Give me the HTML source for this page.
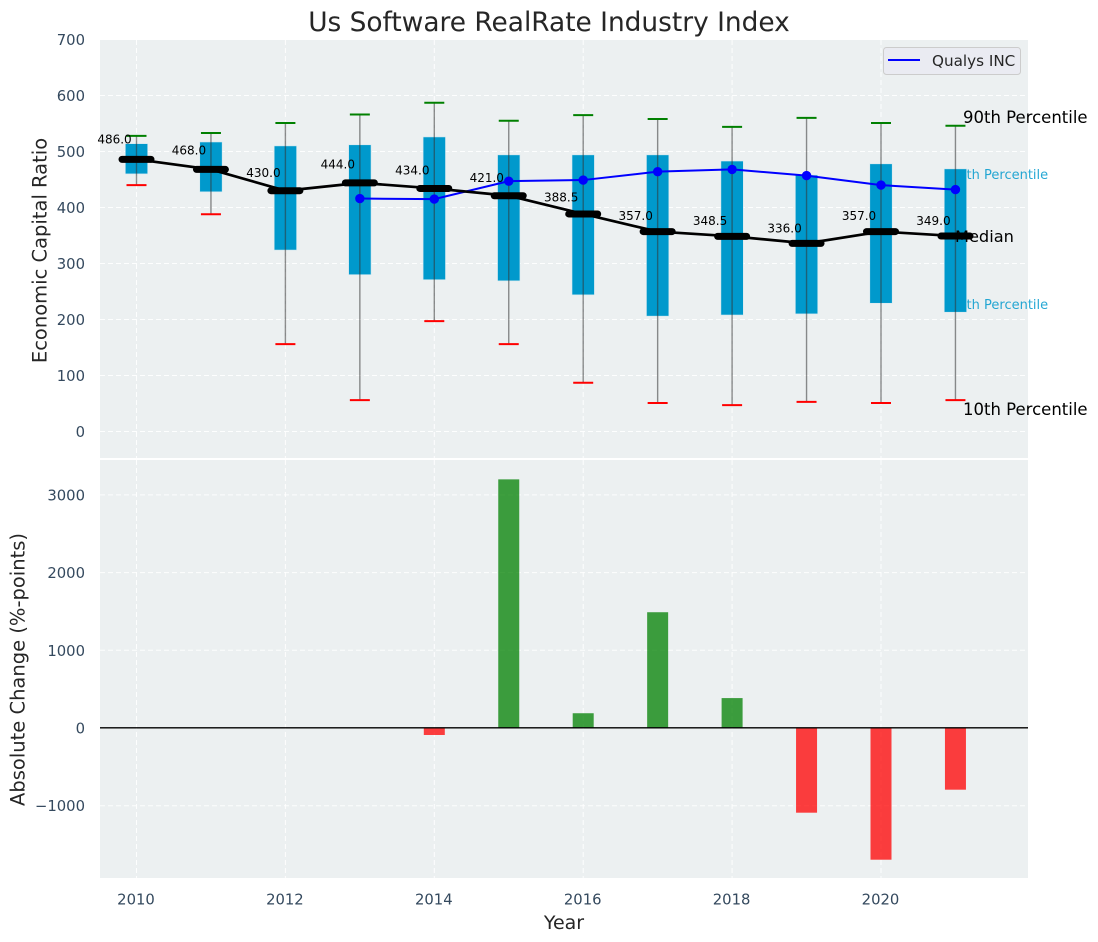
<!DOCTYPE html>
<html lang="en">
<head>
<meta charset="utf-8">
<title>Us Software RealRate Industry Index</title>
<style>
html,body{margin:0;padding:0;background:#fff;width:1098px;height:942px;overflow:hidden}
svg{display:block}
text{font-family:"DejaVu Sans","Liberation Sans",sans-serif}
</style>
</head>
<body>
<svg id="chart" xmlns="http://www.w3.org/2000/svg" width="1098" height="942" viewBox="0 0 1098 942">
  <text x="549" y="31" text-anchor="middle" font-size="26.4" fill="#262626">Us Software RealRate Industry Index</text>
  <rect x="100" y="40" width="928" height="418" fill="#ecf0f1"/>
  <rect x="100" y="460" width="928" height="418" fill="#ecf0f1"/>
  <g id="grid"></g>
  <g id="ticks"></g>
  <text transform="translate(46.5 250.5) rotate(-90)" text-anchor="middle" font-size="19.5" fill="#262626">Economic Capital Ratio</text>
  <text transform="translate(24.5 669.5) rotate(-90)" text-anchor="middle" font-size="19.5" fill="#262626">Absolute Change (%-points)</text>
  <text x="564" y="929" text-anchor="middle" font-size="19" fill="#262626">Year</text>
  <text x="950" y="179" font-size="13" fill="#0099cc" fill-opacity="0.85">75th Percentile</text>
  <text x="950" y="309" font-size="13" fill="#0099cc" fill-opacity="0.85">25th Percentile</text>
  <g id="boxes"></g>
  <g id="bars"></g>
  <line x1="100" x2="1028" y1="727.8" y2="727.8" stroke="#000" stroke-width="1.4"/>
  <g id="company"></g>
  <g id="median"></g>
  <text x="963" y="123" font-size="16.5" fill="#000">90th Percentile</text>
  <text x="955" y="242" font-size="16.2" fill="#000">Median</text>
  <text x="963" y="415" font-size="16.5" fill="#000">10th Percentile</text>
  <g>
    <rect x="883.5" y="47.5" width="137" height="27" rx="3" fill="#eaeaf2" fill-opacity="0.85" stroke="#cccccc"/>
    <line x1="888" x2="920" y1="60" y2="60" stroke="#0000ff" stroke-width="2"/>
    <text x="932" y="66" font-size="15.2" fill="#262626">Qualys INC</text>
  </g>
</svg>
<script>
const years = [2010, 2011, 2012, 2013, 2014, 2015, 2016, 2017, 2018, 2019, 2020, 2021];
const p90 = [528, 533, 551, 566, 587, 555, 565, 558, 544, 560, 551, 546];
const p75 = [514, 517, 510, 512, 526, 494, 494, 494, 483, 458, 478, 469];
const medians = [486, 468, 430, 444, 434, 421, 388.5, 357, 348.5, 336, 357, 349];
const p25 = [460, 428, 324, 280, 271, 269, 244, 206, 208, 210, 229, 213];
const p10 = [440, 388, 156, 56, 197, 156, 87, 51, 47, 53, 51, 56];
const companyYears = [2013, 2014, 2015, 2016, 2017, 2018, 2019, 2020, 2021];
const companyValues = [416, 415, 447, 449, 464, 468, 457, 440, 432];
const changeYears = [2014, 2015, 2016, 2017, 2018, 2019, 2020, 2021];
const changeValues = [-90, 3200, 190, 1490, 385, -1090, -1695, -794];
const xTicks = [2010, 2012, 2014, 2016, 2018, 2020];
const topTicks = [0, 100, 200, 300, 400, 500, 600, 700];
const bottomTicks = [-1000, 0, 1000, 2000, 3000];

const NS = 'http://www.w3.org/2000/svg';
const xScale = v => 136.5 + (v - 2010) * 74.45;
const yTop = v => 431.5 - v * 0.56;
const yBottom = v => 728 - v * 0.0777;
function mk(parent, tag, attrs, txt) {
  const el = document.createElementNS(NS, tag);
  for (const k in attrs) el.setAttribute(k, attrs[k]);
  if (txt !== undefined) el.textContent = txt;
  parent.appendChild(el);
  return el;
}
const gridG = document.getElementById('grid');
const tickG = document.getElementById('ticks');
const boxG = document.getElementById('boxes');
const barG = document.getElementById('bars');
const compG = document.getElementById('company');
const medG = document.getElementById('median');
const gridStyle = {stroke: '#ffffff', 'stroke-width': 1, 'stroke-dasharray': '5 3', fill: 'none', 'stroke-opacity': 0.9};

xTicks.forEach(t => {
  const x = xScale(t);
  [[40, 458], [460, 878]].forEach(r => {
    const el = mk(gridG, 'line', {x1: x, x2: x, y1: r[0], y2: r[1], ...gridStyle});
    
    
  });
  const lab = mk(tickG, 'text', {x: x - 0.5, y: 904.5, 'text-anchor': 'middle', 'font-size': 14.8, fill: '#34495e'}, String(t));
  
  
});
topTicks.forEach(t => {
  const y = yTop(t);
  const el = mk(gridG, 'line', {x1: 100, x2: 1028, y1: y, y2: y, ...gridStyle});
  
  
  const lab = mk(tickG, 'text', {x: 85, y: y + 5.5, 'text-anchor': 'end', 'font-size': 14.8, fill: '#34495e'}, String(t));
  
  
});
bottomTicks.forEach(t => {
  const y = yBottom(t);
  const el = mk(gridG, 'line', {x1: 100, x2: 1028, y1: y, y2: y, ...gridStyle});
  
  
  const lab = mk(tickG, 'text', {x: 85, y: y + 5.5, 'text-anchor': 'end', 'font-size': 14.8, fill: '#34495e'}, String(t).replace('-', '\u2212'));
  
  
});

years.forEach((yr, i) => {
  const x = xScale(yr);
  const box = mk(boxG, 'rect', {x: x - 11.2, y: yTop(p75[i]), width: 22.4, height: yTop(p25[i]) - yTop(p75[i]), fill: '#0099cc', stroke: '#d5e9f0', 'stroke-width': 0.6});
  
  
  const whisk = mk(boxG, 'line', {x1: x, x2: x, y1: yTop(p90[i]), y2: yTop(p10[i]), stroke: '#333333', 'stroke-opacity': 0.55, 'stroke-width': 1.4});
  
  
  const capHi = mk(boxG, 'line', {x1: x - 10, x2: x + 10, y1: yTop(p90[i]), y2: yTop(p90[i]), stroke: '#008000', 'stroke-width': 2});
  
  
  const capLo = mk(boxG, 'line', {x1: x - 10, x2: x + 10, y1: yTop(p10[i]), y2: yTop(p10[i]), stroke: '#ff0000', 'stroke-width': 2});
  
  
});

changeYears.forEach((yr, i) => {
  const x = xScale(yr);
  const v = changeValues[i];
  const y0 = yBottom(Math.max(v, 0));
  const y1 = yBottom(Math.min(v, 0));
  const bar = mk(barG, 'rect', {x: x - 10.5, y: y0, width: 21, height: y1 - y0, fill: v >= 0 ? '#008000' : '#ff0000', 'fill-opacity': 0.75});
  
  
});

const compLine = mk(compG, 'polyline', {points: companyYears.map((yr, i) => xScale(yr) + ',' + yTop(companyValues[i])).join(' '), fill: 'none', stroke: '#0000ff', 'stroke-width': 2});


companyYears.forEach((yr, i) => {
  const pt = mk(compG, 'circle', {cx: xScale(yr), cy: yTop(companyValues[i]), r: 4.7, fill: '#0000ff'});
  
  
});

const medLine = mk(medG, 'polyline', {points: years.map((yr, i) => xScale(yr) + ',' + yTop(medians[i])).join(' '), fill: 'none', stroke: '#000', 'stroke-width': 2.7});


years.forEach((yr, i) => {
  const x = xScale(yr);
  const y = yTop(medians[i]);
  const cap = mk(medG, 'line', {x1: x - 14.5, x2: x + 14.5, y1: y, y2: y, stroke: '#000', 'stroke-width': 7, 'stroke-linecap': 'round'});
  
  
  const lab = mk(medG, 'text', {x: x - 22, y: y + 0.5 - medians[i] * 0.0333, 'text-anchor': 'middle', 'font-size': 12, fill: '#000'}, medians[i].toFixed(1));
  
  
});
</script>
</body>
</html>
